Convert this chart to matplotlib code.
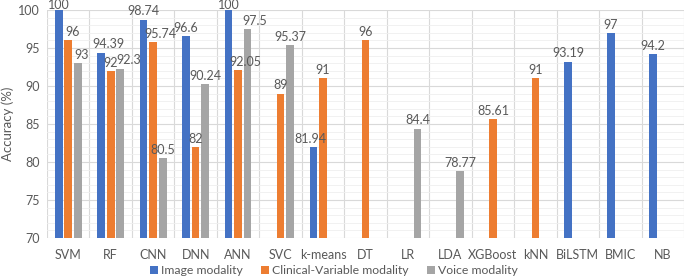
import matplotlib
matplotlib.use("Agg")
import matplotlib.pyplot as plt
import numpy as np
from matplotlib.patches import Patch

categories = ["SVM", "RF", "CNN", "DNN", "ANN", "SVC", "k-means", "DT", "LR", "LDA",
              "XGBoost", "kNN", "BiLSTM", "BMIC", "NB"]
image = [100, 94.39, 98.74, 96.6, 100, None, 81.94, None, None, None, None, None, 93.19, 97, 94.2]
clinical = [96, 92, 95.74, 82, 92.05, 89, 91, 96, None, None, 85.61, 91, None, None, None]
voice = [93, 92.3, 80.5, 90.24, 97.5, 95.37, None, None, 84.4, 78.77, None, None, None, None, None]
series_names = ["Image modality", "Clinical-Variable modality", "Voice modality"]
colors = ["#4472C4", "#ED7D31", "#A5A5A5"]

plt.rcParams['font.family'] = ['Lato', 'DejaVu Sans']
txt = "#595959"

# small horizontal nudges (series, category) in category units, keeping labels apart
nudge = {(1, 0): 0.1, (2, 0): 0.1, (0, 1): 0.16, (2, 1): 0.2, (1, 2): 0.17,
         (1, 4): 0.18, (2, 4): 0.17, (0, 6): -0.08}

fig = plt.figure(figsize=(6.85, 2.79), dpi=100)
ax = fig.add_axes([47/685, 1-238/279, 637/685, 228/279])

x = np.arange(len(categories))
w = 0.18
offs = [-0.225, 0.0, 0.225]
for s, (vals, col) in enumerate(zip([image, clinical, voice], colors)):
    for i, v in enumerate(vals):
        if v is None:
            continue
        ax.bar(x[i] + offs[s], v - 70, bottom=70, width=w, color=col, zorder=3)
        ax.text(x[i] + offs[s] + nudge.get((s, i), 0), min(v + 0.3, 99.9), f"{v:g}",
                ha="center", va="bottom", fontsize=9, color=txt, zorder=4, clip_on=False)

ax.set_xlim(-0.5, len(categories) - 0.5)
ax.set_ylim(70, 100)
ax.set_yticks(np.arange(70, 101, 5))
ax.set_yticks(np.arange(70, 101, 1), minor=True)
ax.set_xticks(x)
ax.set_xticklabels(categories)
ax.set_xticks(np.arange(-0.5, len(categories), 1), minor=True)
ax.grid(which="major", axis="y", color="#D9D9D9", lw=0.8, zorder=0)
ax.grid(which="minor", axis="y", color="#EFEFEF", lw=0.6, zorder=0)
ax.grid(which="minor", axis="x", color="#D9D9D9", lw=0.8, zorder=0)
ax.tick_params(which="both", length=0)
ax.tick_params(axis="both", labelsize=9, colors=txt)
ax.tick_params(axis="x", pad=8)
ax.tick_params(axis="y", pad=5)
for sp in ax.spines.values():
    sp.set_visible(False)
ax.set_ylabel("Accuracy (%)", fontsize=9.5, color=txt, labelpad=3)

handles = [Patch(facecolor=c) for c in colors]
fig.legend(handles, series_names, loc="center", bbox_to_anchor=(0.488, 1-271/279),
           ncol=3, frameon=False, fontsize=8.8, handlelength=0.6, handleheight=0.6,
           handletextpad=0.3, columnspacing=1.5, labelcolor=txt)

fig.savefig("out.png", dpi=100)
